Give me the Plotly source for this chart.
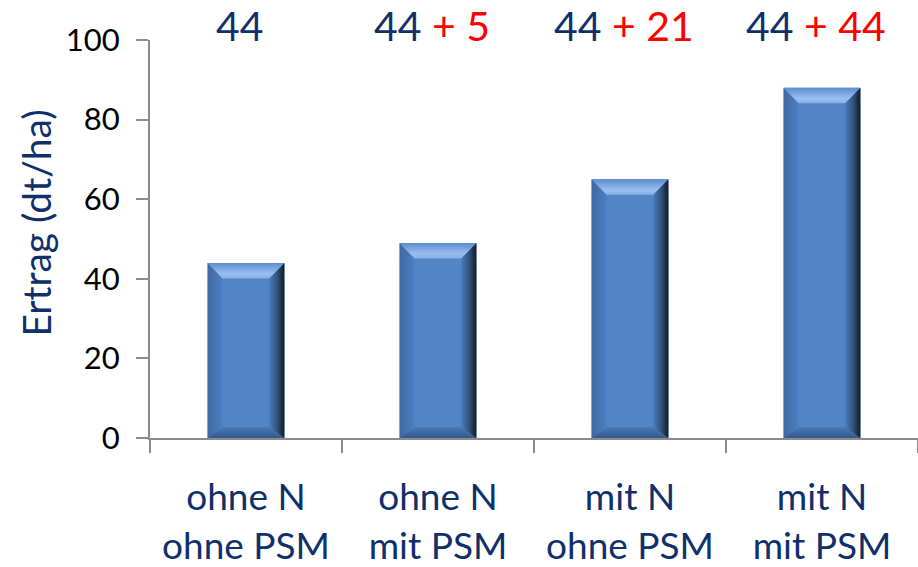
import plotly.graph_objects as go

# Yield per treatment (dt/ha)
categories = ["ohne N<br>ohne PSM", "ohne N<br>mit PSM", "mit N<br>ohne PSM", "mit N<br>mit PSM"]
yields = [44, 49, 65, 88]
y_ticks = [0, 20, 40, 60, 80, 100]

NAVY = "#10306C"
RED = "#FF0000"
FACE = "#5384C5"
FONT = "Lato"

BAR_W = 0.4      # bar width in category units
BEVEL_X = 0.078  # bevel depth along x (category units)
BEVEL_TOP = 3.9  # top bevel depth (data units)
BEVEL_BOT = 2.7  # bottom bevel depth (data units)

xs = list(range(len(categories)))

fig = go.Figure()

# Bar faces
fig.add_trace(go.Bar(
    x=xs, y=yields, width=BAR_W,
    marker=dict(color=FACE, line=dict(width=0)),
    hoverinfo="skip", showlegend=False,
))


def bevel(px, py, orient, scale):
    fig.add_trace(go.Scatter(
        x=px, y=py, mode="lines", fill="toself",
        line=dict(width=0, color="rgba(0,0,0,0)"),
        fillgradient=dict(type=orient, colorscale=scale),
        hoverinfo="skip", showlegend=False,
    ))


# Bevelled edges around each bar, built from the bar value
for xi, v in zip(xs, yields):
    l, r = xi - BAR_W / 2, xi + BAR_W / 2
    il, ir = l + BEVEL_X, r - BEVEL_X
    top_in, bot_in = v - BEVEL_TOP, BEVEL_BOT
    # left edge: darker at the outside
    bevel([l, il, il, l, l], [v, top_in, bot_in, 0, v], "horizontal",
          [[0, "#3E68A3"], [1, "#4E7FC0"]])
    # bottom edge
    bevel([l, r, ir, il, l], [0, 0, bot_in, bot_in, 0], "vertical",
          [[0, "#35598C"], [1, "#4878B6"]])
    # top edge: light highlight
    bevel([l, r, ir, il, l], [v, v, top_in, top_in, v], "vertical",
          [[0, "#86AFE6"], [0.3, "#98BFF1"], [1, "#5C8DCF"]])
    # right edge: shading to dark navy
    bevel([ir, r, r, ir, ir], [top_in, v, 0, bot_in, top_in], "horizontal",
          [[0, "#4B7AB8"], [0.5, "#34557F"], [1, "#0E1A2A"]])

# Base yield plus gain over the untreated variant
base = yields[0]
for xi, v in zip(xs, yields):
    gain = v - base
    if gain == 0:
        txt = f"{base}"
    else:
        txt = f"{base}<span style='color:{RED}'> + {gain}</span>"
    fig.add_annotation(
        x=xi - 0.03, y=1 + 15 / 401, xref="x", yref="paper", text=txt,
        showarrow=False, xanchor="center", yanchor="middle",
        font=dict(family=FONT, size=41, color=NAVY),
    )

# Y axis title
fig.add_annotation(
    x=(36 - 150) / 768, y=(441 - 225) / 401, xref="paper", yref="paper",
    text="Ertrag (dt/ha)", showarrow=False, textangle=-90,
    xanchor="center", yanchor="middle",
    font=dict(family=FONT, size=39, color=NAVY),
)

fig.update_layout(
    width=918, height=567,
    margin=dict(l=150, r=0, t=40, b=126, pad=0),
    paper_bgcolor="white", plot_bgcolor="white",
    barmode="overlay", hovermode=False, showlegend=False,
    xaxis=dict(
        range=[-0.5, 3.5], tickmode="array", tickvals=xs, ticktext=categories,
        ticks="", showgrid=False, zeroline=False,
        showline=True, linecolor="#8C8C8C", linewidth=2,
        tickfont=dict(family=FONT, size=37, color=NAVY),
        ticklabelstandoff=26,
        minor=dict(tickmode="linear", tick0=-0.5, dtick=1, ticks="outside",
                   ticklen=13, tickwidth=2, tickcolor="#8C8C8C", showgrid=False),
        fixedrange=True,
    ),
    yaxis=dict(
        range=[0, 100], tickmode="array", tickvals=y_ticks,
        ticks="outside", ticklen=12, tickwidth=2, tickcolor="#8C8C8C",
        showgrid=False, zeroline=False,
        showline=True, linecolor="#8C8C8C", linewidth=2,
        tickfont=dict(family=FONT, size=31, color="black"),
        ticklabelstandoff=10,
        fixedrange=True,
    ),
)

fig.write_html("out.html", config={"displayModeBar": False})
